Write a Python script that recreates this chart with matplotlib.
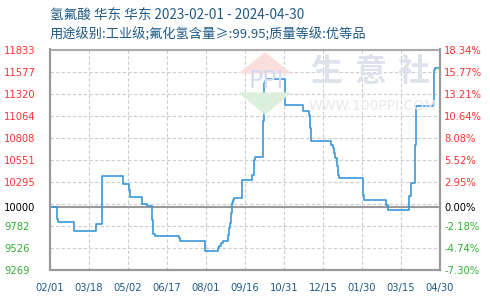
import pandas as pd
import matplotlib
matplotlib.use("Agg")
import matplotlib.pyplot as plt
import matplotlib.dates as mdates
from matplotlib.patches import Polygon

plt.rcParams['font.family'] = ['Noto Sans CJK SC', 'DejaVu Sans']

title = "氢氟酸 华东 华东 2023-02-01 - 2024-04-30"
subtitle = "用途级别:工业级;氟化氢含量≥:99.95;质量等级:优等品"

# price change dates and the price valid from that date on
change_dates = [
    "2023-02-01", "2023-02-09", "2023-02-10", "2023-03-01", "2023-03-26",
    "2023-03-27", "2023-04-02", "2023-04-03", "2023-04-27", "2023-05-04",
    "2023-05-05", "2023-05-19", "2023-05-25", "2023-05-31", "2023-06-01",
    "2023-06-03", "2023-07-01", "2023-07-02", "2023-07-31", "2023-08-16",
    "2023-08-17", "2023-08-19", "2023-08-21", "2023-08-27", "2023-08-28",
    "2023-08-29", "2023-08-31", "2023-09-01", "2023-09-02", "2023-09-03",
    "2023-09-12", "2023-09-13", "2023-09-24", "2023-09-26", "2023-09-28",
    "2023-10-07", "2023-10-08", "2023-10-09", "2023-10-10", "2023-11-01",
    "2023-11-02", "2023-11-22", "2023-11-29", "2023-12-01", "2023-12-02",
    "2023-12-25", "2023-12-27", "2023-12-29", "2023-12-30", "2024-01-01",
    "2024-01-02", "2024-01-03", "2024-01-31", "2024-02-01", "2024-02-27",
    "2024-02-29", "2024-03-25", "2024-03-27", "2024-04-01", "2024-04-02",
    "2024-04-22", "2024-04-23", "2024-04-24", "2024-04-30",
]
prices = [
    10000, 9863, 9828, 9727, 9758,
    9805, 10087, 10366, 10270, 10195,
    10119, 10037, 10017, 9855, 9688,
    9669, 9642, 9601, 9494, 9525,
    9552, 9584, 9610, 9680, 9758,
    9816, 9932, 10049, 10087, 10107,
    10212, 10320, 10378, 10552, 10579,
    10998, 11442, 11463, 11494, 11328,
    11192, 11114, 11076, 10921, 10765,
    10727, 10688, 10630, 10572, 10474,
    10378, 10340, 10145, 10087, 10030,
    9971, 10126, 10281, 10727, 11172,
    11192, 11599, 11619, 11619,
]

base = 10000
y_ticks = [9269, 9526, 9782, 10000, 10295, 10551, 10808, 11064, 11320, 11577, 11833]
y_grid = [9269, 9526, 9782, 10038, 10295, 10551, 10808, 11064, 11320, 11577, 11833]
pct_labels = ["-7.30%", "-4.74%", "-2.18%", "0.00%", "2.95%", "5.52%",
              "8.08%", "10.64%", "13.21%", "15.77%", "18.34%"]
x_labels = ["02/01", "03/18", "05/02", "06/17", "08/01", "09/16",
            "10/31", "12/15", "01/30", "03/15", "04/30"]

RED = "#ff3333"
GREEN = "#33b033"
BLUE_TXT = "#1f5a86"

fig = plt.figure(figsize=(4.9, 3.0), dpi=100)
ax = fig.add_axes([50 / 490, 0.1, 390 / 490, 0.735])

dates = pd.to_datetime(change_dates)
x0 = mdates.date2num(dates[0])
x1 = mdates.date2num(dates[-1])

# watermark (figure pixel coords)
def fx(px):
    return px / 490

def fy(py):
    return 1 - py / 300

fig.patches.append(Polygon([(fx(240), fy(73)), (fx(290), fy(73)), (fx(265), fy(53))],
                           closed=True, transform=fig.transFigure, color="#fadede", zorder=0))
fig.patches.append(Polygon([(fx(240), fy(93)), (fx(290), fy(93)), (fx(265), fy(114))],
                           closed=True, transform=fig.transFigure, color="#dcefdc", zorder=0))
fig.text(fx(266), fy(81), "PPI", fontsize=17, color="#d3dcee", ha="center", va="center",
         family="DejaVu Sans", zorder=0)
for cx, ch in zip([326, 371, 414], "生意社"):
    fig.text(fx(cx), fy(72), ch, fontsize=23, color="#dde2ec", ha="center", va="center",
             fontweight="bold", zorder=0)
fig.text(fx(373), fy(106), "WWW.100PPI.COM", fontsize=10, color="#e8e8e8",
         ha="center", va="center", family="DejaVu Sans", zorder=0)
ax.patch.set_alpha(0)

# grid
for g in y_grid:
    ax.axhline(g, color="#cccccc", lw=0.8, ls=(0, (3, 2)), zorder=1)
xt = [x0 + (x1 - x0) * k / 10 for k in range(11)]
for x in xt[1:-1]:
    ax.axvline(x, color="#cccccc", lw=0.8, ls=(0, (3, 2)), zorder=1)
ax.axhline(base, color="#999999", lw=1.5, zorder=2)

ax.plot(mdates.date2num(dates), prices, drawstyle="steps-post",
        color="#3a98d8", lw=1.2, zorder=3)

ax.set_xlim(x0, x1)
ax.set_ylim(y_ticks[0], y_ticks[-1])

ax.set_xticks(xt)
ax.set_xticklabels(x_labels, family="DejaVu Sans", fontsize=7.2, color=BLUE_TXT)
ax.tick_params(axis="x", length=0, pad=9)

ax.set_yticks(y_ticks)
ax.set_yticklabels([str(v) for v in y_ticks], family="DejaVu Sans", fontsize=7.2, ha="left")
ax.tick_params(axis="y", length=0, pad=33)
for lab, v in zip(ax.get_yticklabels(), y_ticks):
    lab.set_color(RED if v > base else ("black" if v == base else GREEN))

ax2 = ax.twinx()
ax2.set_ylim(ax.get_ylim())
ax2.set_yticks(y_ticks)
ax2.set_yticklabels(pct_labels, family="DejaVu Sans", fontsize=7.2)
ax2.tick_params(axis="y", length=0, pad=3)
for lab, v in zip(ax2.get_yticklabels(), y_ticks):
    lab.set_color(RED if v > base else ("black" if v == base else GREEN))

for a in (ax, ax2):
    for side in ("left", "right", "bottom"):
        a.spines[side].set_color("#999999")
        a.spines[side].set_linewidth(1.5)
    a.spines["top"].set_color("#aaaaaa")
    a.spines["top"].set_linewidth(0.8)

fig.text(50 / 490, 1 - 15 / 300, title, fontsize=9.8, color=BLUE_TXT, va="center")
fig.text(50 / 490, 1 - 35 / 300, subtitle, fontsize=9.5, color=BLUE_TXT, va="center")

fig.savefig("out.png", dpi=100)
